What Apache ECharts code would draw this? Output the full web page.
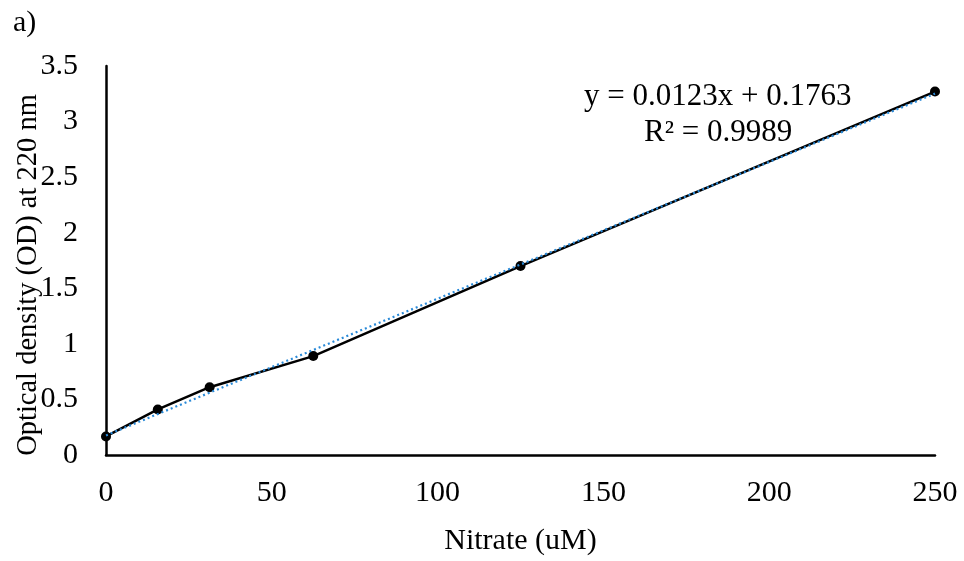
<!DOCTYPE html>
<html>
<head>
<meta charset="utf-8">
<script src="https://cdn.jsdelivr.net/npm/echarts@6/dist/echarts.min.js"></script>
<style>html,body{margin:0;padding:0;background:#fff;}#c{width:964px;height:561px;}</style>
</head>
<body>
<div id="c"></div>
<script>
// Data
var nitrate = [0, 15.625, 31.25, 62.5, 125, 250];
var od = [0.167, 0.41, 0.61, 0.89, 1.70, 3.27];
// Linear trendline endpoints (y = 0.0123x + 0.1763)
var trendX = [0, 250];
var trendY = [0.1763, 3.2513];
var equationText = 'y = 0.0123x + 0.1763';
var r2Text = 'R² = 0.9989';
var panelLabel = 'a)';
var xTitle = 'Nitrate (uM)';
var yTitle = 'Optical density (OD) at 220 nm';

var FONT = '"Liberation Serif", "Times New Roman", serif';
var chart = echarts.init(document.getElementById('c'), null, {renderer: 'canvas'});
var mainData = nitrate.map(function (x, i) { return [x, od[i]]; });
var trendData = trendX.map(function (x, i) { return [x, trendY[i]]; });

chart.setOption({
  animation: false,
  backgroundColor: '#fff',
  grid: {left: 106, right: 29, top: 66, bottom: 104, containLabel: false},
  xAxis: {
    type: 'value', min: 0, max: 250, interval: 50,
    name: xTitle, nameLocation: 'middle', nameGap: 71,
    nameTextStyle: {fontFamily: FONT, fontSize: 30, color: '#000'},
    axisLine: {show: true, onZero: false, lineStyle: {color: '#000', width: 2.5}},
    axisTick: {show: false},
    axisLabel: {fontFamily: FONT, fontSize: 30, color: '#000', margin: 23},
    splitLine: {show: false}
  },
  yAxis: {
    type: 'value', min: 0, max: 3.5, interval: 0.5,
    axisLine: {show: true, lineStyle: {color: '#000', width: 2.5}},
    axisTick: {show: false},
    axisLabel: {fontFamily: FONT, fontSize: 30, color: '#000', margin: 28},
    splitLine: {show: false}
  },
  series: [
    {
      type: 'line', data: mainData, z: 2,
      symbol: 'circle', symbolSize: 10,
      itemStyle: {color: '#000'},
      lineStyle: {color: '#000', width: 2.5}
    },
    {
      type: 'line', data: trendData, z: 3,
      symbol: 'none',
      lineStyle: {color: '#2a8ad8', width: 2.2, type: [2, 3]}
    }
  ],
  graphic: [
    {type: 'text', left: 13, top: 8, style: {text: panelLabel, font: '30px ' + FONT, fill: '#000'}},
    {type: 'text', x: 29, y: 275, rotation: Math.PI / 2,
     style: {text: yTitle, font: '28.5px ' + FONT, fill: '#000', textAlign: 'center', textVerticalAlign: 'middle'}},
    {type: 'text', left: 584, top: 81, style: {text: equationText, font: '31px ' + FONT, fill: '#000'}},
    {type: 'text', left: 644, top: 117, style: {text: r2Text, font: '31px ' + FONT, fill: '#000'}}
  ]
});
</script>
</body>
</html>
